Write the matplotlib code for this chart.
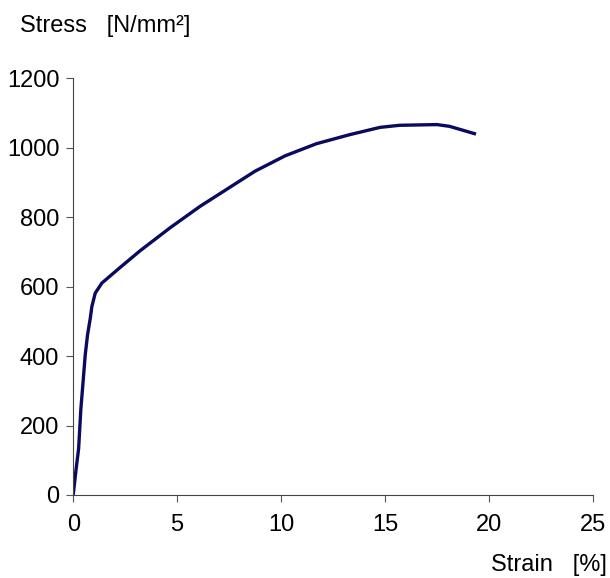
import matplotlib.pyplot as plt

# strain [%] and stress [N/mm2]
strain = [0.0, 0.14, 0.26, 0.37, 0.45, 0.58, 0.69, 0.82, 0.90, 1.06, 1.38,
          2.26, 3.22, 4.66, 6.11, 8.75, 10.19, 11.7, 13.3, 14.76, 15.7,
          17.5, 18.1, 19.3]
stress = [0, 75, 133, 249, 307, 404, 461, 508, 543, 581, 610,
          655, 703, 769, 831, 932, 976, 1011, 1037, 1058, 1064,
          1066, 1061, 1040]

x_ticks = [0, 5, 10, 15, 20, 25]
y_ticks = [0, 200, 400, 600, 800, 1000, 1200]


def main():
    plt.rcParams['font.family'] = ['Liberation Sans', 'DejaVu Sans']
    fig = plt.figure(figsize=(6.1, 5.78), dpi=100)
    ax = fig.add_axes([0.120, 0.1436, 0.852, 0.7214])

    ax.plot(strain, stress, color='#0a0a5e', linewidth=2.4)

    ax.set_xlim(0, 25)
    ax.set_ylim(0, 1200)
    ax.set_xticks(x_ticks)
    ax.set_yticks(y_ticks)
    ax.tick_params(labelsize=17, direction='out', length=5, color='#555555')
    ax.tick_params(axis='x', pad=9)
    ax.tick_params(axis='y', pad=5)
    for side in ['top', 'right']:
        ax.spines[side].set_visible(False)
    for side in ['left', 'bottom']:
        ax.spines[side].set_color('#444444')

    fig.text(0.033, 0.955, 'Stress   [N/mm²]', fontsize=17, va='center', ha='left')
    fig.text(0.995, 0.022, 'Strain   [%]', fontsize=17, va='center', ha='right')

    fig.savefig('out.png', dpi=100)


if __name__ == '__main__':
    main()
